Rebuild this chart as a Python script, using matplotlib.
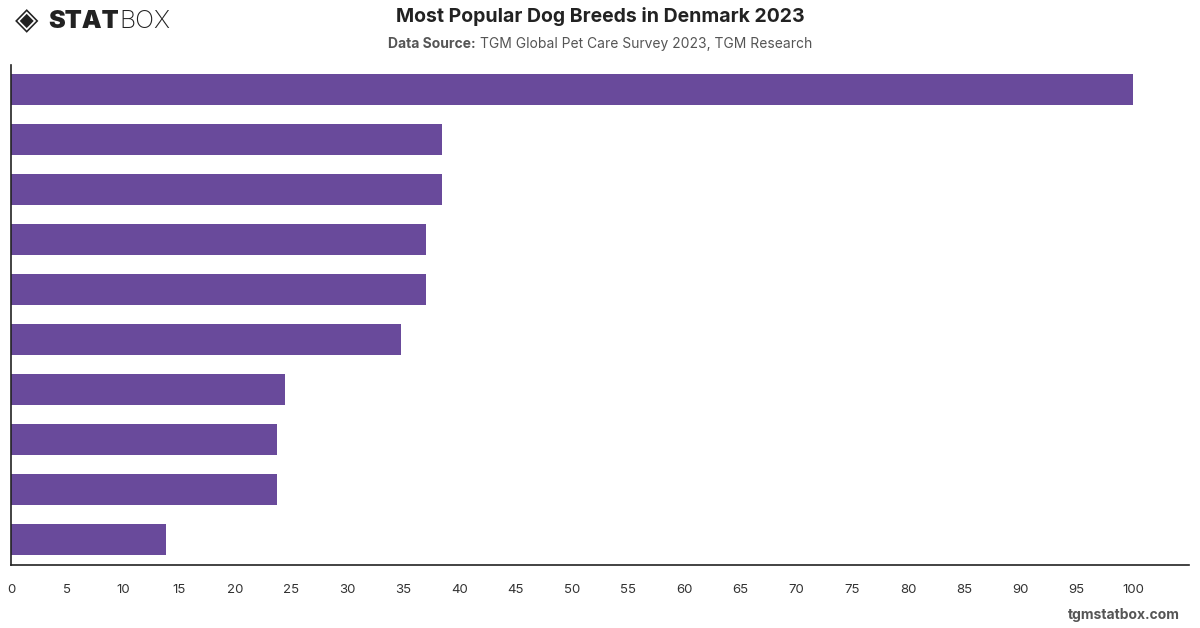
import matplotlib.pyplot as plt

plt.rcParams['font.family'] = ['Inter', 'DejaVu Sans']

# rank of each breed (names not shown on the chart)
ranks = [1, 2, 3, 4, 5, 6, 7, 8, 9, 10]
# popularity index, top breed = 100
values = [100, 38.4, 38.4, 37.0, 37.0, 34.8, 24.4, 23.7, 23.7, 13.8]
xticks = list(range(0, 101, 5))

bar_col = '#694A9B'

fig = plt.figure(figsize=(12, 6.28), dpi=100)
ax = fig.add_axes([11/1200, 1-565/628, (1189-11)/1200, 500/628])

pos = list(range(len(ranks)))
ax.barh(pos, values, height=0.62, color=bar_col)

ax.set_ylim(len(ranks)-0.5, -0.5)
ax.set_xlim(0, 105)
ax.set_xticks(xticks)
ax.set_xticklabels([str(t) for t in xticks], fontsize=9.5, color='#333333')
ax.set_yticks([])
ax.tick_params(axis='x', length=0, pad=14)
for s in ['top', 'right']:
    ax.spines[s].set_visible(False)
for s in ['left', 'bottom']:
    ax.spines[s].set_color('#222222')
    ax.spines[s].set_linewidth(1.2)

fig.text(0.5, 1-17/628, 'Most Popular Dog Breeds in Denmark 2023', ha='center', va='center',
         fontsize=14, fontweight='bold', color='#222222')

# subtitle: bold label + regular text, centred as a whole
fig.canvas.draw()
r = fig.canvas.get_renderer()
t1 = fig.text(0, 1-44/628, 'Data Source:', ha='left', va='center',
              fontsize=10, fontweight='bold', color='#555555')
t2 = fig.text(0, 1-44/628, 'TGM Global Pet Care Survey 2023, TGM Research',
              ha='left', va='center', fontsize=10, color='#555555')
w1 = t1.get_window_extent(r).width
w2 = t2.get_window_extent(r).width
x0 = 600 - (w1 + 4 + w2) / 2
t1.set_x(x0/1200)
t2.set_x((x0 + w1 + 4)/1200)

# logo
fig.text(15/1200, 1-21/628, '◈', ha='left', va='center', fontsize=22, color='#222222',
         family=['DejaVu Sans'])
s1 = fig.text(48/1200, 1-21/628, 'STAT', ha='left', va='center', fontsize=18,
              fontweight='black', color='#222222')
ws = s1.get_window_extent(r).width
fig.text((48 + ws + 1)/1200, 1-21/628, 'BOX', ha='left', va='center', fontsize=18,
         fontweight='light', color='#222222')

fig.text(1180/1200, 1-615/628, 'tgmstatbox.com', ha='right', va='center', fontsize=10,
         fontweight='bold', color='#555555')

fig.savefig('out.png', dpi=100, facecolor='white')
